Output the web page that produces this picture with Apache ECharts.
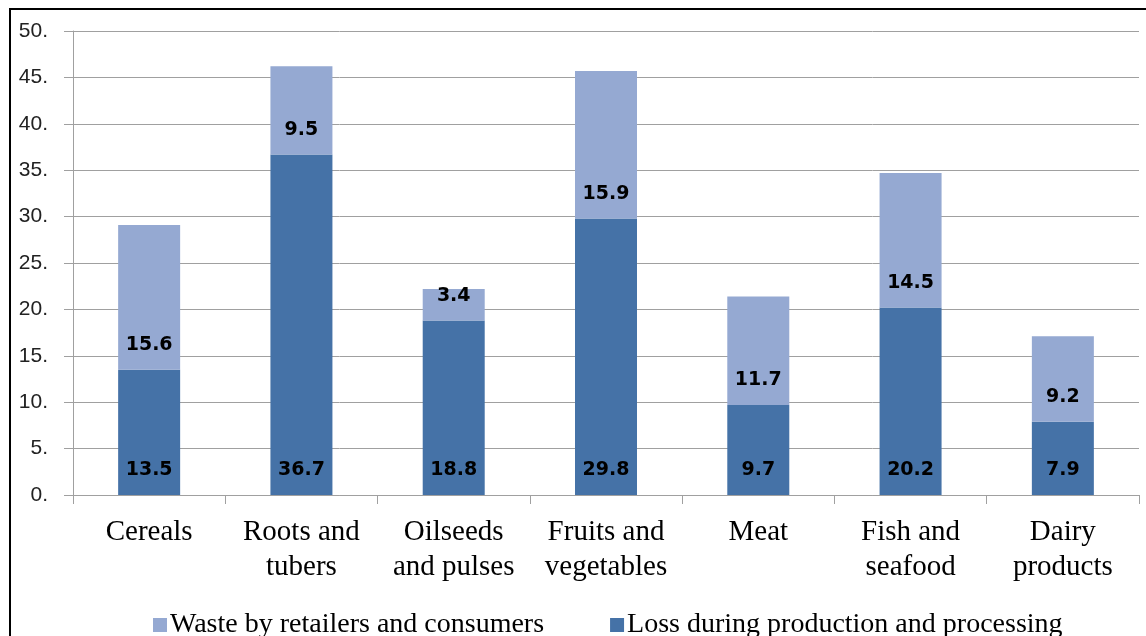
<!DOCTYPE html>
<html>
<head>
<meta charset="utf-8">
<script src="https://cdn.jsdelivr.net/npm/echarts@6/dist/echarts.min.js"></script>
<style>
  html, body { margin: 0; padding: 0; background: #fff; }
  #wrap { position: relative; width: 1146px; height: 636px; overflow: hidden; }
  #frame { position: absolute; left: 9px; top: 8px; width: 1200px; height: 700px; border: 2px solid #000; box-sizing: border-box; }
  #chart { position: absolute; left: 0; top: 0; width: 1146px; height: 636px; }
</style>
</head>
<body>
<div id="wrap">
  <div id="frame"></div>
  <div id="chart"></div>
</div>
<script>
const categories = ["Cereals", "Roots and\ntubers", "Oilseeds\nand pulses", "Fruits and\nvegetables", "Meat", "Fish and\nseafood", "Dairy\nproducts"];
const lossValues = [13.5, 36.7, 18.8, 29.8, 9.7, 20.2, 7.9];
const wasteValues = [15.6, 9.5, 3.4, 15.9, 11.7, 14.5, 9.2];
const yTicks = { min: 0, max: 50, interval: 5 };

const labelStyle = {
  show: true,
  position: "insideBottom",
  distance: 15,
  color: "#000",
  fontWeight: "bold",
  fontSize: 19,
  fontFamily: "DejaVu Sans"
};

const chart = echarts.init(document.getElementById("chart"));
chart.setOption({
  animation: false,
  grid: { left: 73, right: 7, top: 31, bottom: 141 },
  legend: {
    top: 606,
    left: 148,
    itemGap: 66,
    itemWidth: 14,
    itemHeight: 14,
    icon: "rect",
    textStyle: { fontFamily: "Liberation Serif", fontSize: 28, color: "#000", padding: [0, 0, 0, -2] },
    data: ["Waste by retailers and consumers", "Loss during production and processing"]
  },
  xAxis: {
    type: "category",
    data: categories,
    axisLine: { lineStyle: { color: "#a0a0a0", width: 1 } },
    axisTick: { show: true, length: 9, lineStyle: { color: "#a0a0a0" } },
    axisLabel: {
      interval: 0,
      hideOverlap: false,
      fontFamily: "Liberation Serif",
      fontSize: 29,
      color: "#000",
      lineHeight: 35,
      margin: 20
    }
  },
  yAxis: {
    type: "value",
    min: yTicks.min,
    max: yTicks.max,
    interval: yTicks.interval,
    axisLine: { show: true, lineStyle: { color: "#a0a0a0" } },
    axisTick: { show: true, length: 9, lineStyle: { color: "#a0a0a0" } },
    splitLine: { lineStyle: { color: "#a0a0a0", width: 1 } },
    axisLabel: {
      formatter: v => v + ".",
      fontFamily: "Liberation Sans",
      fontSize: 21,
      color: "#222",
      margin: 25
    }
  },
  series: [
    {
      name: "Loss during production and processing",
      type: "bar",
      stack: "total",
      barWidth: 62,
      itemStyle: { color: "#4572a7" },
      label: labelStyle,
      data: lossValues
    },
    {
      name: "Waste by retailers and consumers",
      type: "bar",
      stack: "total",
      barWidth: 62,
      itemStyle: { color: "#95a9d2" },
      label: labelStyle,
      data: wasteValues
    }
  ]
});
</script>
</body>
</html>
